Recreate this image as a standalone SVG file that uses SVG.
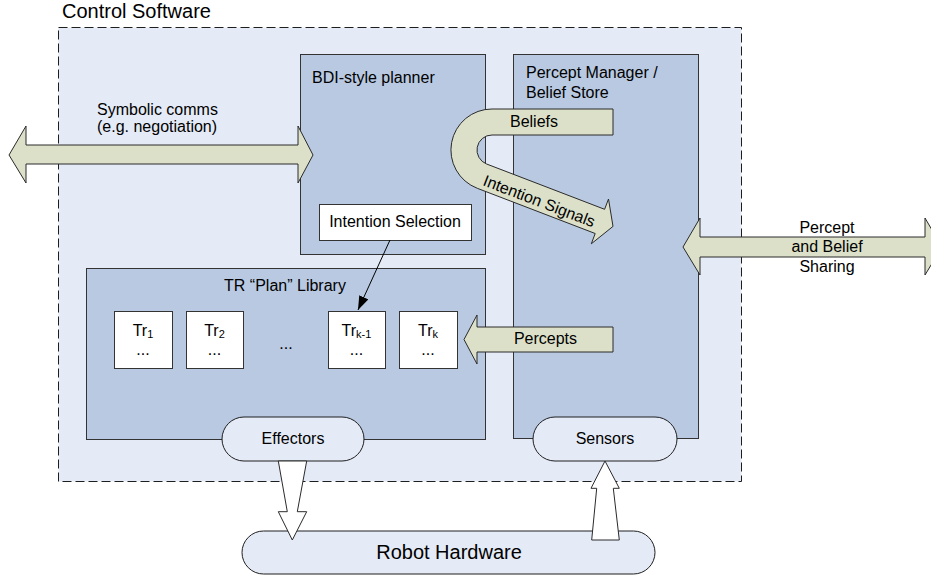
<svg xmlns="http://www.w3.org/2000/svg" width="931" height="575" viewBox="0 0 931 575">
  <style>
    text { font-family: "Liberation Sans", Arial, sans-serif; fill: #000; font-size: 16px; }
    .big { font-size: 20px; }
    .mid { text-anchor: middle; }
    .sub { font-size: 11px; }
    .frame { fill: #e5ebf6; stroke: #1e1e1e; stroke-width: 1; stroke-dasharray: 9 4; }
    .panel { fill: #b8c9e1; stroke: #333; stroke-width: 1; }
    .card { fill: #fff; stroke: #333; stroke-width: 1; }
    .pill { fill: #e5ebf6; stroke: #1e1e1e; stroke-width: 1; }
    .flow { fill: #dce0c9; stroke: #2a2a2a; stroke-width: 1; }
    .io { fill: #fff; stroke: #2a2a2a; stroke-width: 1; }
    .link { fill: none; stroke: #000; stroke-width: 1; }
  </style>
  <defs>
    <marker id="tip" viewBox="0 0 14 10" refX="14" refY="5" markerWidth="14" markerHeight="10" markerUnits="userSpaceOnUse" orient="auto">
      <path d="M0,0 L14,5 L0,10 Z" fill="#000"/>
    </marker>
  </defs>

  <!-- software boundary -->
  <g id="control-software">
    <rect class="frame" x="58.5" y="27.5" width="683" height="454"/>
    <text class="big" x="62" y="18">Control Software</text>
  </g>

  <g id="bdi-planner">
    <rect class="panel" x="300.5" y="54.5" width="185" height="200"/>
    <text x="312" y="83">BDI-style planner</text>
  </g>

  <g id="intention-selection">
    <rect class="card" x="319.5" y="204.5" width="152" height="36"/>
    <text class="mid" x="395" y="227">Intention Selection</text>
  </g>

  <g id="percept-manager">
    <rect class="panel" x="513.5" y="54.5" width="185" height="384"/>
    <text x="526" y="78">Percept Manager /</text>
    <text x="526" y="98">Belief Store</text>
  </g>

  <g id="tr-library">
    <rect class="panel" x="86.5" y="268.5" width="399" height="171"/>
    <text class="mid" x="285" y="291">TR “Plan” Library</text>
    <text class="mid" x="286" y="349">...</text>
  </g>

  <g id="tr-1">
    <rect class="card" x="114.5" y="311.5" width="58" height="57"/>
    <text class="mid" x="143" y="336">Tr<tspan class="sub" dy="2">1</tspan></text>
    <text class="mid" x="143" y="355">...</text>
  </g>
  <g id="tr-2">
    <rect class="card" x="186.5" y="311.5" width="57" height="57"/>
    <text class="mid" x="214.5" y="336">Tr<tspan class="sub" dy="2">2</tspan></text>
    <text class="mid" x="214.5" y="355">...</text>
  </g>
  <g id="tr-k-1">
    <rect class="card" x="328.5" y="311.5" width="57" height="57"/>
    <text class="mid" x="356.5" y="336">Tr<tspan class="sub" dy="2">k-1</tspan></text>
    <text class="mid" x="356.5" y="355">...</text>
  </g>
  <g id="tr-k">
    <rect class="card" x="399.5" y="311.5" width="58" height="57"/>
    <text class="mid" x="428" y="336">Tr<tspan class="sub" dy="2">k</tspan></text>
    <text class="mid" x="428" y="355">...</text>
  </g>

  <g id="effectors">
    <rect class="pill" x="222" y="417" width="142" height="44" rx="22" ry="22"/>
    <text class="mid" x="293" y="444">Effectors</text>
  </g>

  <g id="sensors">
    <rect class="pill" x="533" y="417" width="144" height="44" rx="22" ry="22"/>
    <text class="mid" x="605" y="444">Sensors</text>
  </g>

  <g id="robot-hardware">
    <rect class="pill" x="242" y="531" width="413" height="43" rx="21.5" ry="21.5"/>
    <text class="big mid" x="449" y="559">Robot Hardware</text>
  </g>

  <!-- flows between components -->
  <g id="connectors">
    <!-- symbolic comms, both ways -->
    <path class="flow" d="M9,155 L26,126 L26,145 L298,145 L298,126 L313,155 L298,183 L298,164 L26,164 L26,183 Z"/>
    <text x="97" y="115">Symbolic comms</text>
    <text x="97" y="132">(e.g. negotiation)</text>

    <!-- percept and belief sharing, both ways -->
    <path class="flow" d="M683,247 L700,218 L700,237 L925,237 L925,218 L942,247 L925,275 L925,257 L700,257 L700,275 Z"/>
    <text class="mid" x="827" y="233">Percept</text>
    <text class="mid" x="827" y="252">and Belief</text>
    <text class="mid" x="827" y="272">Sharing</text>

    <!-- beliefs in, intention signals out -->
    <path class="flow" d="M613,109 L492,109 A41,41 0 0 0 477.3,188.3 L595.2,233.5 L591.3,243.8 L613,226.4 L608.5,199 L604.6,209.3 L486.6,164 A15,15 0 0 1 492,135 L613,135 Z"/>
    <text class="mid" x="534" y="127">Beliefs</text>
    <text x="482" y="185" transform="rotate(21 482 185)">Intention Signals</text>

    <!-- percepts into the plan library -->
    <path class="flow" d="M464,339.5 L477,315 L477,327 L613,327 L613,352 L477,352 L477,364 Z"/>
    <text class="mid" x="545.5" y="344">Percepts</text>

    <!-- selected rule -->
    <line class="link" x1="390" y1="240" x2="358" y2="310" marker-end="url(#tip)"/>

    <!-- effectors to hardware -->
    <path class="io" d="M278.3,461 L306.7,461 L297.3,511.7 L306.7,511.7 L292.3,540 L278.3,511.7 L287.3,511.7 Z"/>
    <!-- hardware to sensors -->
    <path class="io" d="M605,461 L619.3,488.3 L613.3,488.3 L619.3,540 L591.7,540 L596.7,488.3 L591,488.3 Z"/>
  </g>
</svg>
